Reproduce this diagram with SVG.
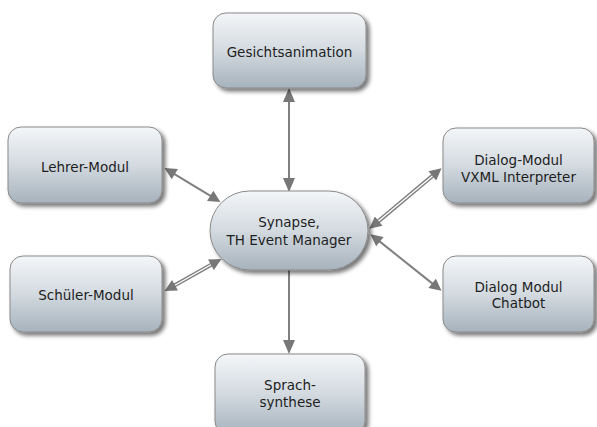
<svg xmlns="http://www.w3.org/2000/svg" width="597" height="427" viewBox="0 0 597 427">
<defs>
<linearGradient id="g" x1="0" y1="0" x2="0" y2="1">
<stop offset="0" stop-color="#f4f6f8"/>
<stop offset="0.5" stop-color="#d3dae0"/>
<stop offset="1" stop-color="#a6b2bc"/>
</linearGradient>
<filter id="sh" x="-10%" y="-10%" width="130%" height="140%">
<feGaussianBlur in="SourceAlpha" stdDeviation="2"/>
<feOffset dx="3" dy="3" result="b"/>
<feComponentTransfer><feFuncA type="linear" slope="0.55"/></feComponentTransfer>
<feMerge><feMergeNode/><feMergeNode in="SourceGraphic"/></feMerge>
</filter>
<marker id="ah" viewBox="0 0 10 10" refX="0.7" refY="5" markerWidth="14" markerHeight="12" markerUnits="userSpaceOnUse" orient="auto-start-reverse">
<path d="M0,0 L10,5 L0,10 Z" fill="#777"/>
</marker>
</defs>
<style>
.box{fill:url(#g);stroke:#8a8a8a;stroke-width:1;filter:url(#sh)}
.t{font-family:"DejaVu Sans",Verdana,sans-serif;font-size:13.5px;fill:#1e1e1e;text-anchor:middle}
.c{stroke:#808080;stroke-width:2;fill:none}
.d{stroke:#808080;stroke-width:4;fill:none}
.w{stroke:#ffffff;stroke-width:1.3;fill:none}
</style>
<rect width="597" height="427" fill="#ffffff"/>
<g id="connectors">
<line class="c" x1="289" y1="101" x2="289" y2="179"/>
<path d="M289,88 L283,102 L295,102 Z" fill="#777"/>
<path d="M289,192 L283,178 L295,178 Z" fill="#777"/>
<line class="c" x1="289" y1="270" x2="289" y2="341"/>
<path d="M289,354 L283,340 L295,340 Z" fill="#777"/>
<line class="c" x1="174.1" y1="173.8" x2="210.9" y2="196.2" marker-start="url(#ah)" marker-end="url(#ah)"/>
<line class="d" x1="174.3" y1="285.6" x2="211.7" y2="264.4" marker-start="url(#ah)" marker-end="url(#ah)"/>
<line class="w" x1="175" y1="285.2" x2="211" y2="264.8"/>
<line class="d" x1="378" y1="221.6" x2="433" y2="175.4" marker-start="url(#ah)" marker-end="url(#ah)"/>
<line class="w" x1="378.6" y1="221.1" x2="432.4" y2="175.9"/>
<line class="c" x1="379.2" y1="241.1" x2="432.8" y2="283.9" marker-start="url(#ah)" marker-end="url(#ah)"/>
</g>
<g id="gesicht">
<rect class="box" x="213" y="13" width="153" height="75" rx="13"/>
<text class="t" x="289.5" y="56.5">Gesichtsanimation</text>
</g>
<g id="synapse">
<rect class="box" x="210" y="191" width="158" height="79" rx="39.5"/>
<text class="t" x="289" y="227">Synapse,</text>
<text class="t" x="289" y="245">TH Event Manager</text>
</g>
<g id="lehrer">
<rect class="box" x="8" y="127" width="154" height="76" rx="13"/>
<text class="t" x="85" y="172">Lehrer-Modul</text>
</g>
<g id="schueler">
<rect class="box" x="10" y="256" width="152" height="76" rx="13"/>
<text class="t" x="86" y="300">Schüler-Modul</text>
</g>
<g id="dialog">
<rect class="box" x="443" y="128" width="151" height="75" rx="13"/>
<text class="t" x="518.5" y="165">Dialog-Modul</text>
<text class="t" x="518.5" y="182">VXML Interpreter</text>
</g>
<g id="chatbot">
<rect class="box" x="443" y="256" width="151" height="76" rx="13"/>
<text class="t" x="518.5" y="292">Dialog Modul</text>
<text class="t" x="518.5" y="308">Chatbot</text>
</g>
<g id="sprach">
<rect class="box" x="215" y="354" width="150" height="80" rx="13"/>
<text class="t" x="290" y="390">Sprach-</text>
<text class="t" x="290" y="407">synthese</text>
</g>
</svg>
